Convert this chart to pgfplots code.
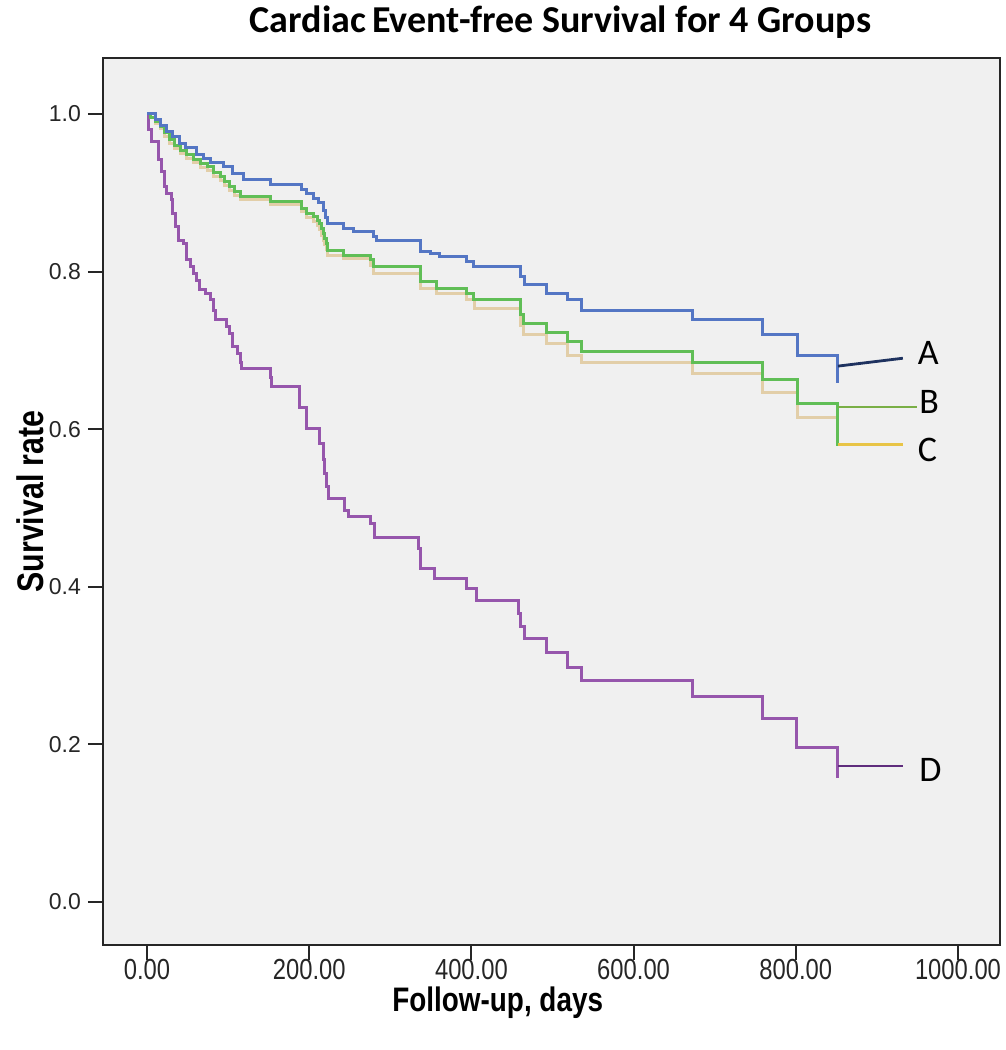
\documentclass[border=0pt]{standalone}
\usepackage{fontspec}
\setmainfont{Liberation Sans}
\newfontfamily\titlefont{Carlito}
\newfontfamily\narrowfont[FakeStretch=0.82]{Liberation Sans}
\usepackage{pgfplots}
\pgfplotsset{compat=1.18}

\definecolor{plotbg}{RGB}{240,240,240}
\definecolor{cA}{RGB}{84,118,196}
\definecolor{cAl}{RGB}{30,50,95}
\definecolor{cB}{RGB}{96,190,86}
\definecolor{cBl}{RGB}{122,175,70}
\definecolor{cC}{RGB}{226,206,168}
\definecolor{cCl}{RGB}{232,196,70}
\definecolor{cD}{RGB}{150,86,172}
\definecolor{cDl}{RGB}{95,45,125}

\begin{document}
\begin{tikzpicture}
\begin{axis}[
    scale only axis,
    width=448.5pt, height=443.5pt,
    xmin=-54.3, xmax=1051.8,
    ymin=-0.0546, ymax=1.071,
    axis background/.style={fill=plotbg},
    axis line style={line width=1pt, black!85},
    tick style={line width=1pt, black!85},
    tick align=outside,
    major tick length=7.5pt,
    xtick={0,200,400,600,800,1000},
    xticklabels={0.00,200.00,400.00,600.00,800.00,1000.00},
    ytick={0,0.2,0.4,0.6,0.8,1.0},
    yticklabels={0.0,0.2,0.4,0.6,0.8,1.0},
    xtick pos=bottom, ytick pos=left,
    xticklabel style={font=\narrowfont\fontsize{14.5}{14.5}\selectfont, black!85, yshift=4pt},
    yticklabel style={font=\fontsize{11.5}{11.5}\selectfont, black!85},
    xlabel={Follow-up, days},
    ylabel={Survival rate},
    xlabel style={font=\narrowfont\bfseries\fontsize{17}{17}\selectfont, at={(axis description cs:0.44,0)}, anchor=center, yshift=-29pt},
    ylabel style={font=\narrowfont\bfseries\fontsize{18.5}{18.5}\selectfont, at={(axis description cs:-0.0814,0.5)}, anchor=center},
    clip=false,
]
\coordinate (ll) at (rel axis cs:0,0);
\coordinate (ur) at (rel axis cs:1,1);

% D
\addplot[const plot, cD, line width=1.5pt] coordinates {
(0,1.0) (2,0.98) (6,0.965) (14,0.942) (18,0.927) (22,0.908) (24,0.899) (30,0.891)
(32,0.874) (35,0.857) (39,0.840) (45,0.836) (49,0.815) (53,0.806) (57,0.798) (61,0.789)
(65,0.777) (72,0.772) (78,0.764) (82,0.751) (84,0.739) (98,0.730) (102,0.722) (106,0.705)
(111,0.696) (115,0.684) (117,0.677) (152,0.666) (154,0.654) (188,0.628) (197,0.601)
(213,0.582) (217,0.561) (219,0.544) (221,0.527) (224,0.512) (244,0.497) (248,0.489)
(275,0.480) (281,0.463) (335,0.449) (337,0.423) (355,0.411) (394,0.398) (406,0.383)
(458,0.366) (460,0.349) (466,0.334) (493,0.317) (518,0.297) (536,0.281) (672,0.261)
(759,0.233) (801,0.196) (851,0.157)
};
% C
\addplot[const plot, cC, line width=1.5pt] coordinates {
(0,1.0) (4,0.995) (10,0.988) (16,0.981) (22,0.972) (28,0.963) (34,0.956) (41,0.950)
(49,0.944) (57,0.938) (66,0.932) (74,0.928) (82,0.921) (90,0.915) (96,0.909) (102,0.903)
(108,0.897) (115,0.891) (152,0.885) (191,0.876) (197,0.869) (205,0.864) (210,0.858)
(213,0.853) (215,0.846) (217,0.840) (219,0.834) (221,0.828) (223,0.821) (242,0.816)
(275,0.808) (279,0.798) (337,0.779) (357,0.772) (394,0.764) (404,0.753) (460,0.732)
(464,0.7195) (493,0.709) (519,0.694) (536,0.684) (672,0.670) (759,0.646) (802,0.615)
(851,0.578)
};
% B
\addplot[const plot, cB, line width=1.5pt] coordinates {
(0,1.0) (4,0.996) (10,0.99) (16,0.984) (22,0.976) (28,0.967) (34,0.960) (41,0.954)
(49,0.948) (57,0.942) (66,0.937) (74,0.933) (82,0.926) (90,0.920) (96,0.914) (102,0.908)
(108,0.902) (115,0.895) (152,0.889) (191,0.880) (197,0.874) (205,0.870) (210,0.865)
(213,0.861) (215,0.854) (217,0.848) (219,0.842) (221,0.836) (223,0.827) (242,0.821)
(275,0.815) (279,0.806) (337,0.787) (357,0.779) (394,0.772) (402,0.765) (460,0.745)
(464,0.734) (493,0.723) (519,0.711) (536,0.698) (672,0.685) (759,0.6625) (802,0.632)
(851,0.578)
};
% A
\addplot[const plot, cA, line width=1.5pt] coordinates {
(0,1.0) (10,0.993) (16,0.985) (24,0.978) (32,0.971) (40,0.963) (48,0.957) (61,0.948)
(70,0.943) (78,0.939) (94,0.933) (106,0.925) (119,0.917) (152,0.910) (190,0.904)
(197,0.899) (205,0.893) (211,0.887) (217,0.877) (220,0.869) (223,0.861) (242,0.855)
(254,0.851) (279,0.844) (283,0.840) (337,0.825) (350,0.823) (361,0.819) (394,0.813)
(402,0.806) (460,0.794) (466,0.783) (493,0.772) (519,0.764) (536,0.751) (672,0.739)
(759,0.7195) (802,0.693) (851,0.659)
};

% label lines
\addplot[cAl, line width=1.4pt] coordinates {(852,0.680) (932,0.690)};
\addplot[cBl, line width=1.4pt] coordinates {(852,0.628) (949,0.628)};
\addplot[cCl, line width=1.4pt] coordinates {(852,0.581) (932,0.581)};
\addplot[cDl, line width=1.4pt] coordinates {(852,0.1726) (932,0.1726)};

\node[anchor=west, inner sep=0pt, font=\titlefont\fontsize{18}{18}\selectfont] at (axis cs:950,0.697) {A};
\node[anchor=west, inner sep=0pt, font=\titlefont\fontsize{18}{18}\selectfont] at (axis cs:952,0.635) {B};
\node[anchor=west, inner sep=0pt, font=\titlefont\fontsize{18}{18}\selectfont] at (axis cs:950,0.574) {C};
\node[anchor=west, inner sep=0pt, font=\titlefont\fontsize{18}{18}\selectfont] at (axis cs:952,0.168) {D};

\node[font=\titlefont\bfseries\fontsize{19}{19}\selectfont, inner sep=0pt] at ([yshift=18pt]rel axis cs:0.51,1) {Cardiac\,Event-free Survival for 4 Groups};
\end{axis}
\pgfresetboundingbox
\path[use as bounding box] ([shift={(-51.5pt,-52.5pt)}]ll) rectangle ([shift={(3pt,29pt)}]ur);
\end{tikzpicture}
\end{document}
